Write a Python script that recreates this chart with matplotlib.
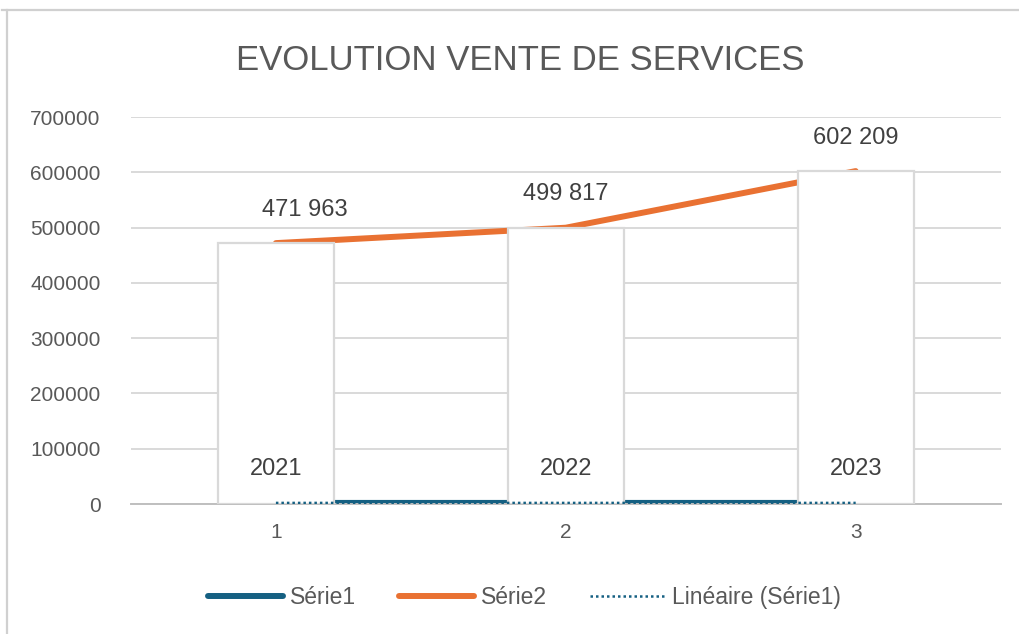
import matplotlib.pyplot as plt
from matplotlib.lines import Line2D
import numpy as np

# data
categories = [1, 2, 3]
serie1 = [2021, 2022, 2023]
serie2 = [471963, 499817, 602209]
value_labels = ["471 963", "499 817", "602 209"]
year_labels = ["2021", "2022", "2023"]

BLUE = "#156082"
ORANGE = "#E97132"
GRID = "#d9d9d9"
TEXT = "#595959"

plt.rcParams["font.family"] = ["Liberation Sans", "DejaVu Sans"]

fig = plt.figure(figsize=(10.2, 6.34), dpi=100)
ax = fig.add_axes([0.1284, 0.205, 0.8526, 0.6104])

x = np.array(categories)

# lines behind the label boxes
ax.plot(x, serie2, color=ORANGE, lw=4.3, solid_capstyle="round", zorder=2)
ax.plot(x, serie1, color=BLUE, lw=4.3, solid_capstyle="round", zorder=2)
coef = np.polyfit(x, serie1, 1)
ax.plot(x, np.polyval(coef, x), color=BLUE, lw=1.8, ls=(0, (1, 1.2)), zorder=4)

# data label boxes
ax.bar(x, serie2, width=0.4, color="white", edgecolor=GRID, linewidth=1.6, zorder=3)

x_shift = [21, 0, 0]
for xi, v, lab, dx in zip(x, serie2, value_labels, x_shift):
    ax.annotate(lab, (xi, v), xytext=(dx, 24), textcoords="offset points",
                ha="center", va="center", fontsize=17, color="#404040", zorder=5)
for xi, lab in zip(x, year_labels):
    ax.annotate(lab, (xi, 0), xytext=(0, 25), textcoords="offset points",
                ha="center", va="center", fontsize=17, color="#404040", zorder=5)

ax.set_xlim(0.5, 3.5)
ax.set_ylim(0, 700000)
ax.set_yticks(range(0, 700001, 100000))
ax.set_xticks(categories)
ax.yaxis.grid(True, color=GRID, lw=1.4)
ax.set_axisbelow(True)
for s in ["top", "right", "left"]:
    ax.spines[s].set_visible(False)
ax.spines["bottom"].set_color("#bfbfbf")
ax.spines["bottom"].set_linewidth(1.4)
ax.tick_params(axis="both", length=0, labelsize=15, labelcolor=TEXT)
ax.tick_params(axis="y", pad=22)
ax.tick_params(axis="x", pad=14)

fig.text(0.51, 0.904, "EVOLUTION VENTE DE SERVICES", ha="center", va="center",
         fontsize=25, color=TEXT)

handles = [
    Line2D([], [], color=BLUE, lw=4.3, solid_capstyle="round"),
    Line2D([], [], color=ORANGE, lw=4.3, solid_capstyle="round"),
    Line2D([], [], color=BLUE, lw=1.8, ls=(0, (1, 1.2))),
]
fig.legend(handles, ["Série1", "Série2", "Linéaire (Série1)"], loc="center",
           bbox_to_anchor=(0.514, 0.057), ncol=3, frameon=False, fontsize=16.5,
           labelcolor=TEXT, handlelength=3.3, handletextpad=0.3, columnspacing=1.85)

# outer chart frame (top and left edges visible)
fig.add_artist(Line2D([0.002, 1.0], [1 - 10 / 634, 1 - 10 / 634], color="#d0d0d0", lw=1.6,
                      transform=fig.transFigure))
fig.add_artist(Line2D([7 / 1020, 7 / 1020], [0, 1 - 10 / 634], color="#d0d0d0", lw=1.6,
                      transform=fig.transFigure))

fig.savefig("out.png", dpi=100)
